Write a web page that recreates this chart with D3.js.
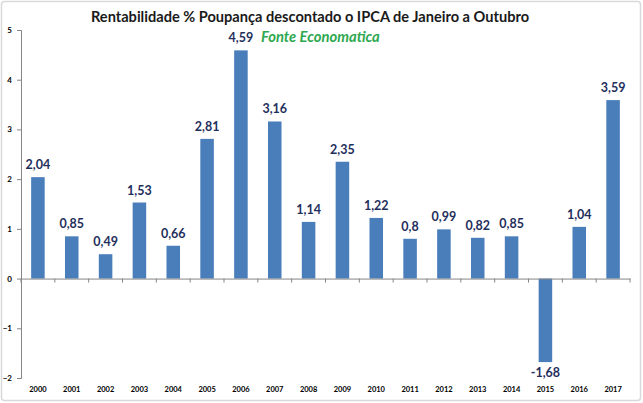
<!DOCTYPE html>
<html><head><meta charset="utf-8">
<script src="https://cdn.jsdelivr.net/npm/d3@7"></script>
<style>body{margin:0;background:#fff}svg{display:block}</style>
</head><body>
<script>
const years = ["2000","2001","2002","2003","2004","2005","2006","2007","2008","2009","2010","2011","2012","2013","2014","2015","2016","2017"];
const values = [2.04,0.85,0.49,1.53,0.66,2.81,4.59,3.16,1.14,2.35,1.22,0.8,0.99,0.82,0.85,-1.68,1.04,3.59];
const labels = ["2,04","0,85","0,49","1,53","0,66","2,81","4,59","3,16","1,14","2,35","1,22","0,8","0,99","0,82","0,85","-1,68","1,04","3,59"];
const yTicks = [-2,-1,0,1,2,3,4,5];

const W=643,H=403;
const svg=d3.select("body").append("svg").attr("width",W).attr("height",H);
svg.append("rect").attr("x",1.5).attr("y",1.5).attr("width",W-4).attr("height",H-4)
  .attr("rx",3).attr("fill","#fff").attr("stroke","#d9d9d9").attr("stroke-width",1.5);

const x=d3.scaleBand().domain(years).range([21,630]).paddingInner(0.6).paddingOuter(0.3);
const y=d3.scaleLinear().domain([-2,5]).range([378,30]);

// y axis
const ya=svg.append("g").attr("transform","translate(21,0)")
  .call(d3.axisLeft(y).tickValues(yTicks).tickSize(4).tickFormat(d3.format("d")));
ya.select(".domain").attr("stroke","#868686");
ya.selectAll(".tick line").attr("stroke","#868686");
ya.selectAll(".tick text").attr("font-family","Lato, sans-serif").attr("font-weight","bold")
  .attr("font-size",8).attr("fill","#000").attr("x",-9);

// bars
svg.append("g").selectAll("rect").data(values).join("rect")
  .attr("x",(d,i)=>x(years[i]))
  .attr("width",x.bandwidth())
  .attr("y",d=>y(Math.max(0,d)))
  .attr("height",d=>Math.abs(y(d)-y(0)))
  .attr("fill","#4a7ebb");

// x axis at zero
const xa=svg.append("g").attr("transform",`translate(0,${y(0)})`)
  .call(d3.axisBottom(x).tickSize(0).tickFormat(""));
xa.select(".domain").attr("stroke","#868686");
const step=x.step();
svg.append("g").selectAll("line").data(d3.range(years.length+1)).join("line")
  .attr("x1",i=>21+i*step).attr("x2",i=>21+i*step)
  .attr("y1",y(0)).attr("y2",y(0)+4).attr("stroke","#868686");

// year labels at bottom
svg.append("g").selectAll("text").data(years).join("text")
  .attr("x",d=>x(d)+x.bandwidth()/2).attr("y",392)
  .attr("text-anchor","middle").attr("font-family","Lato, sans-serif")
  .attr("font-weight","bold").attr("font-size",7.5).attr("fill","#000").text(d=>d);

// value labels
svg.append("g").selectAll("text").data(values).join("text")
  .attr("x",(d,i)=>x(years[i])+x.bandwidth()/2)
  .attr("y",d=>d>=0? y(d)-8 : y(d)+15)
  .attr("text-anchor","middle").attr("font-family","Lato, sans-serif")
  .attr("font-weight","bold").attr("font-size",12.5).attr("fill","#1f2f5c")
  .text((d,i)=>labels[i]);

// title
svg.append("text").attr("x",310).attr("y",22).attr("text-anchor","middle")
  .attr("font-family","Lato, sans-serif").attr("font-weight","bold").attr("font-size",14.6)
  .attr("fill","#1a1a1a").text("Rentabilidade % Poupança descontado o IPCA de Janeiro a Outubro");
svg.append("text").attr("x",261).attr("y",42)
  .attr("font-family","Lato, sans-serif").attr("font-weight","bold").attr("font-style","italic")
  .attr("font-size",14.8).attr("fill","#2ea84f").text("Fonte Economatica");
</script>
</body></html>
